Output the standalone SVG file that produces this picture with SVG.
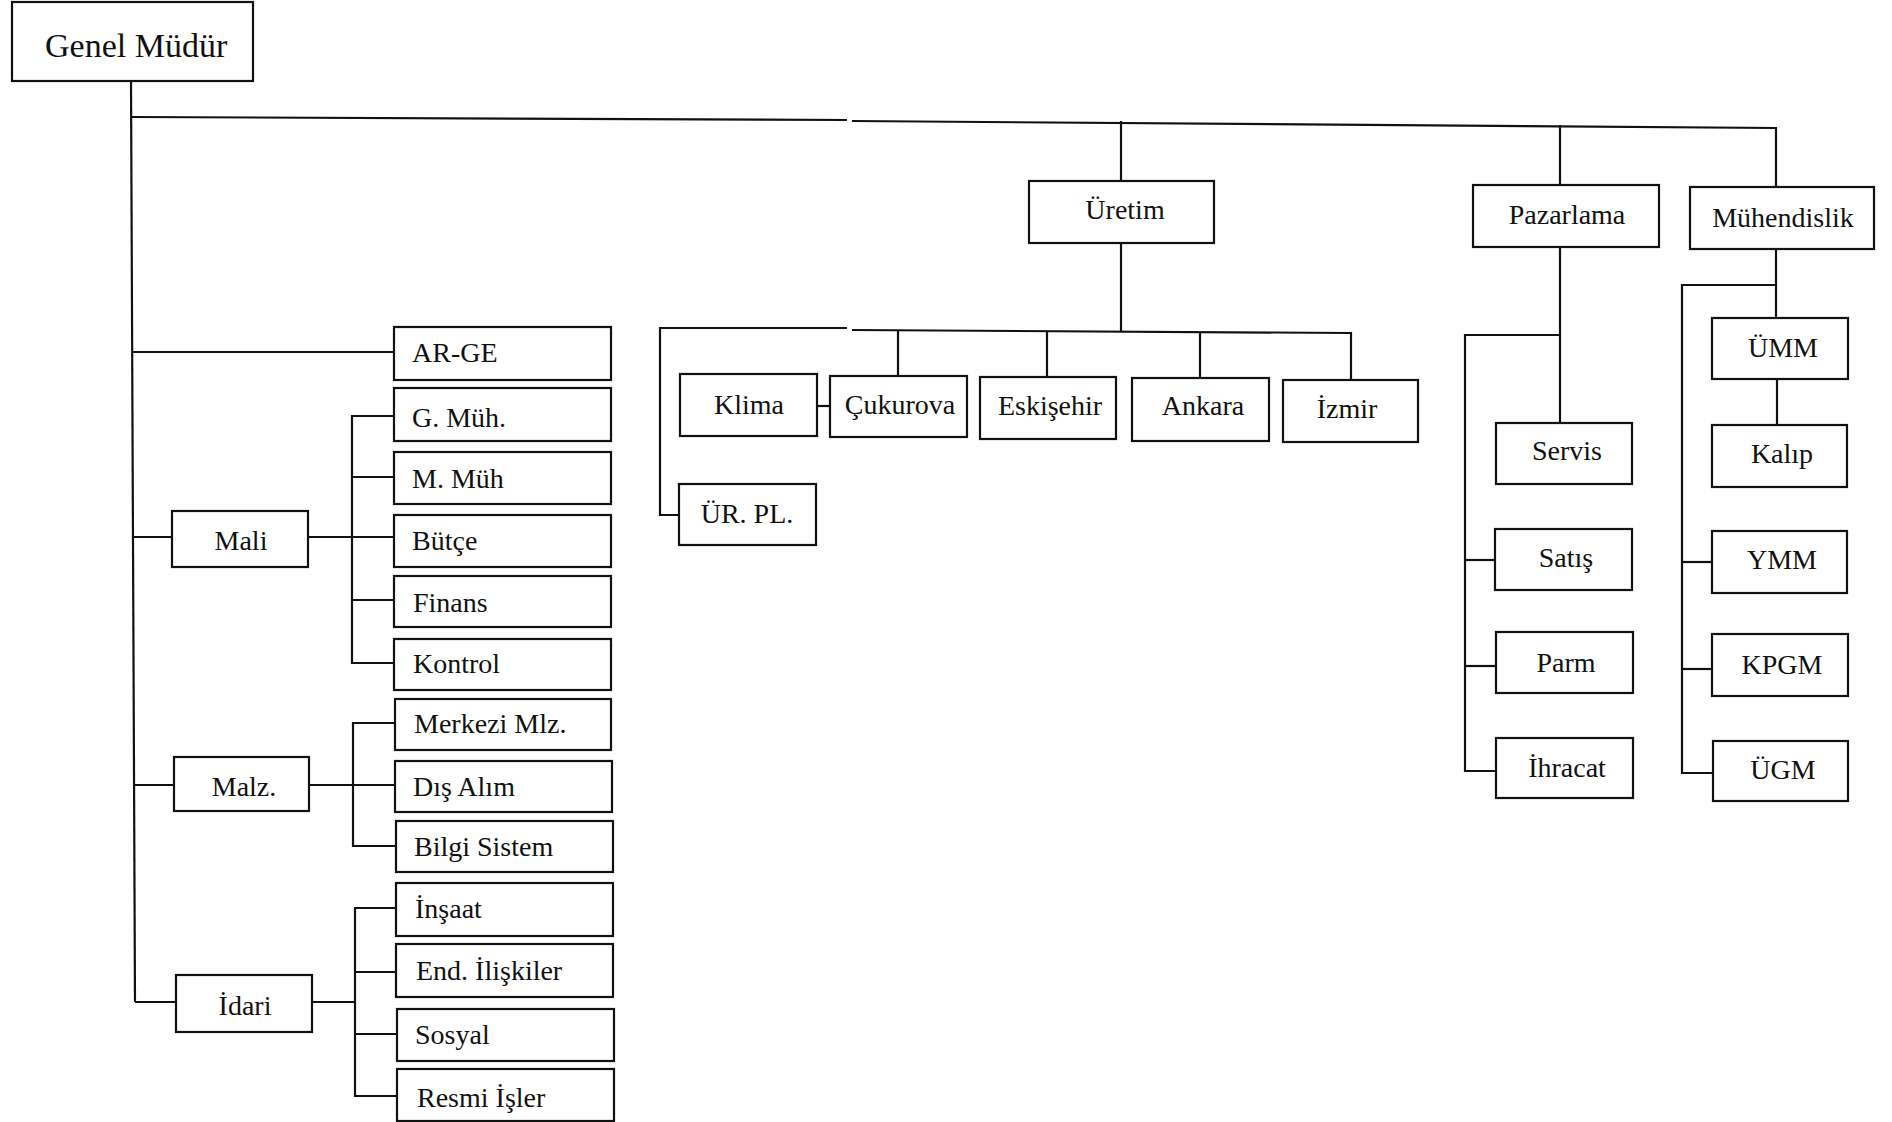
<svg xmlns="http://www.w3.org/2000/svg" width="1892" height="1122" viewBox="0 0 1892 1122">
<style>
.b{fill:#fff;stroke:#111;stroke-width:2.2}
.c{fill:none;stroke:#111;stroke-width:2.2}
text{font-family:"Liberation Serif","Times New Roman",serif;font-size:28px;fill:#111}
.m{text-anchor:middle}
</style>
<rect width="1892" height="1122" fill="#fff"/>
<g id="connectors">
<polyline class="c" points="131,81 135,1002"/>
<polyline class="c" points="131,117 847,120"/>
<polyline class="c" points="852,121 1776,128 1776,187"/>
<line class="c" x1="1121" y1="121" x2="1121" y2="181"/>
<line class="c" x1="1560" y1="125" x2="1560" y2="185"/>
<line class="c" x1="132" y1="352" x2="394" y2="352"/>
<line class="c" x1="132" y1="537" x2="172" y2="537"/>
<line class="c" x1="134" y1="785" x2="174" y2="785"/>
<line class="c" x1="135" y1="1002" x2="176" y2="1002"/>
<polyline class="c" points="394,416 352,416 352,663 394,663"/>
<line class="c" x1="352" y1="477" x2="394" y2="477"/>
<line class="c" x1="308" y1="537" x2="394" y2="537"/>
<line class="c" x1="352" y1="600" x2="394" y2="600"/>
<polyline class="c" points="395,723 353,723 353,846 396,846"/>
<line class="c" x1="309" y1="785" x2="395" y2="785"/>
<polyline class="c" points="396,908 355,908 355,1096 397,1096"/>
<line class="c" x1="355" y1="972" x2="396" y2="972"/>
<line class="c" x1="312" y1="1002" x2="355" y2="1002"/>
<line class="c" x1="355" y1="1034" x2="397" y2="1034"/>
<line class="c" x1="1121" y1="243" x2="1121" y2="331"/>
<polyline class="c" points="679,515 660,515 660,328 847,328"/>
<polyline class="c" points="852,330 1351,333 1351,380"/>
<line class="c" x1="898" y1="330" x2="898" y2="376"/>
<line class="c" x1="1047" y1="331" x2="1047" y2="377"/>
<line class="c" x1="1200" y1="332" x2="1200" y2="378"/>
<line class="c" x1="817" y1="406" x2="830" y2="406"/>
<line class="c" x1="1560" y1="247" x2="1560" y2="423"/>
<polyline class="c" points="1560,335 1465,335 1465,771 1496,771"/>
<line class="c" x1="1465" y1="560" x2="1495" y2="560"/>
<line class="c" x1="1465" y1="666" x2="1496" y2="666"/>
<line class="c" x1="1776" y1="249" x2="1776" y2="318"/>
<polyline class="c" points="1776,285 1682,285 1682,773 1713,773"/>
<line class="c" x1="1682" y1="562" x2="1712" y2="562"/>
<line class="c" x1="1682" y1="669" x2="1712" y2="669"/>
<line class="c" x1="1777" y1="379" x2="1777" y2="425"/>
</g>
<g id="genel-mudur"><rect class="b" x="12" y="2" width="241" height="79"/><text x="45" y="57" style="font-size:34px">Genel Müdür</text></g>
<g id="ar-ge"><rect class="b" x="394" y="327" width="217" height="53"/><text x="412" y="362">AR-GE</text></g>
<g id="g-muh"><rect class="b" x="394" y="388" width="217" height="53"/><text x="412" y="427">G. Müh.</text></g>
<g id="m-muh"><rect class="b" x="394" y="452" width="217" height="52"/><text x="412" y="488">M. Müh</text></g>
<g id="butce"><rect class="b" x="394" y="515" width="217" height="52"/><text x="412" y="550">Bütçe</text></g>
<g id="finans"><rect class="b" x="394" y="576" width="217" height="51"/><text x="413" y="612">Finans</text></g>
<g id="kontrol"><rect class="b" x="394" y="639" width="217" height="51"/><text x="413" y="673">Kontrol</text></g>
<g id="mali"><rect class="b" x="172" y="511" width="136" height="56"/><text class="m" x="241" y="550">Mali</text></g>
<g id="merkezi-mlz"><rect class="b" x="395" y="699" width="216" height="51"/><text x="414" y="733">Merkezi Mlz.</text></g>
<g id="dis-alim"><rect class="b" x="395" y="761" width="217" height="51"/><text x="413" y="796">Dış Alım</text></g>
<g id="bilgi-sistem"><rect class="b" x="396" y="821" width="217" height="51"/><text x="414" y="856">Bilgi Sistem</text></g>
<g id="malz"><rect class="b" x="174" y="757" width="135" height="54"/><text class="m" x="244" y="796">Malz.</text></g>
<g id="insaat"><rect class="b" x="396" y="883" width="217" height="53"/><text x="415" y="918">İnşaat</text></g>
<g id="end-iliskiler"><rect class="b" x="396" y="944" width="217" height="53"/><text x="416" y="980">End. İlişkiler</text></g>
<g id="sosyal"><rect class="b" x="397" y="1009" width="217" height="52"/><text x="415" y="1044">Sosyal</text></g>
<g id="resmi-isler"><rect class="b" x="397" y="1069" width="217" height="52"/><text x="417" y="1107">Resmi İşler</text></g>
<g id="idari"><rect class="b" x="176" y="975" width="136" height="57"/><text class="m" x="245" y="1015">İdari</text></g>
<g id="uretim"><rect class="b" x="1029" y="181" width="185" height="62"/><text class="m" x="1125" y="219">Üretim</text></g>
<g id="klima"><rect class="b" x="680" y="374" width="137" height="62"/><text class="m" x="749" y="414">Klima</text></g>
<g id="cukurova"><rect class="b" x="830" y="376" width="137" height="61"/><text class="m" x="900" y="414">Çukurova</text></g>
<g id="eskisehir"><rect class="b" x="980" y="377" width="136" height="62"/><text class="m" x="1050" y="415">Eskişehir</text></g>
<g id="ankara"><rect class="b" x="1132" y="378" width="137" height="63"/><text class="m" x="1203" y="415">Ankara</text></g>
<g id="izmir"><rect class="b" x="1283" y="380" width="135" height="62"/><text class="m" x="1347" y="418">İzmir</text></g>
<g id="ur-pl"><rect class="b" x="679" y="484" width="137" height="61"/><text class="m" x="747" y="523">ÜR. PL.</text></g>
<g id="pazarlama"><rect class="b" x="1473" y="185" width="186" height="62"/><text class="m" x="1567" y="224">Pazarlama</text></g>
<g id="muhendislik"><rect class="b" x="1690" y="187" width="184" height="62"/><text class="m" x="1783" y="227">Mühendislik</text></g>
<g id="servis"><rect class="b" x="1496" y="423" width="136" height="61"/><text class="m" x="1567" y="460">Servis</text></g>
<g id="satis"><rect class="b" x="1495" y="529" width="137" height="61"/><text class="m" x="1566" y="567">Satış</text></g>
<g id="parm"><rect class="b" x="1496" y="632" width="137" height="61"/><text class="m" x="1566" y="672">Parm</text></g>
<g id="ihracat"><rect class="b" x="1496" y="738" width="137" height="60"/><text class="m" x="1567" y="777">İhracat</text></g>
<g id="umm"><rect class="b" x="1712" y="318" width="136" height="61"/><text class="m" x="1783" y="357">ÜMM</text></g>
<g id="kalip"><rect class="b" x="1712" y="425" width="135" height="62"/><text class="m" x="1782" y="463">Kalıp</text></g>
<g id="ymm"><rect class="b" x="1712" y="531" width="135" height="62"/><text class="m" x="1782" y="569">YMM</text></g>
<g id="kpgm"><rect class="b" x="1712" y="634" width="136" height="62"/><text class="m" x="1782" y="674">KPGM</text></g>
<g id="ugm"><rect class="b" x="1713" y="741" width="135" height="60"/><text class="m" x="1783" y="779">ÜGM</text></g>
</svg>
